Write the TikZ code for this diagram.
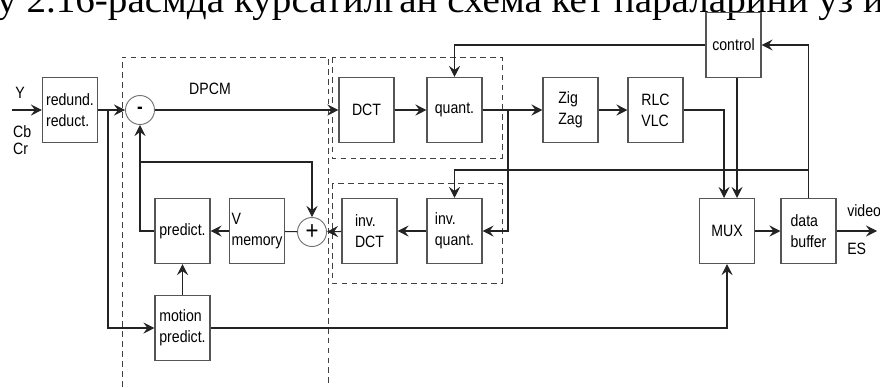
\documentclass[tikz,border=0pt]{standalone}
\usepackage{fontspec}
\setmainfont{Liberation Sans}[FakeStretch=0.86]
\newfontfamily\pagefont{Liberation Serif}
\usetikzlibrary{arrows.meta,calc}
\definecolor{boxgray}{RGB}{85,85,85}
\definecolor{linegray}{RGB}{35,35,35}
\tikzset{
  blk/.style={draw=boxgray, line width=0.9pt, minimum width=1.65cm, minimum height=1.95cm, inner sep=1pt, align=left},
  sumnode/.style={circle, draw=black!55, line width=0.8pt, minimum size=0.87cm, inner sep=0pt},
  arr/.style={-{Stealth[length=9.5pt,width=9.5pt,inset=3.5pt]}, linegray, line width=0.9pt},
  ln/.style={linegray, line width=0.9pt},
  dashbox/.style={draw=black!75, line width=0.8pt, dash pattern=on 5pt off 3.5pt},
  lbl/.style={anchor=west, inner sep=0pt},
}

\begin{document}
\begin{tikzpicture}[x=0.03cm,y=-0.03cm,font=\fontsize{14}{17.9}\selectfont]
  \useasboundingbox (0,0) rectangle (880,387);
  % cut-off line of the page above
  \begin{scope}
    \clip (0,0) rectangle (880,387);
    \node[anchor=base west, inner sep=0pt, font=\pagefont\fontsize{32}{32}\selectfont] (pg) at (-3,12) {\resizebox{26.6cm}{\height}{у 2.16-расмда курсатилган схема кет параларини уз и}};
  \end{scope}

  % dashed groups
  \draw[dashbox] (122,387) -- (122,57) -- (328,57) -- (328,387);
  \draw[dashbox] (332,57) rectangle (502,158);
  \draw[dashbox] (332,183) rectangle (502,283);

  % blocks
  \node[blk] (red) at (70,110) {redund.\\reduct.};
  \node[sumnode, font=\fontsize{17}{17}\bfseries] (minus) at (140,110) {-};
  \node (dpcm) at (210,89) {DPCM};
  \node[blk] (dct) at (366.5,110) {DCT};
  \node[blk] (quant) at (454.5,110) {quant.};
  \node[blk] (zz) at (570.5,110) {Zig\\Zag};
  \node[blk] (rlc) at (655.5,110) {RLC\\VLC};
  \node[blk] (ctrl) at (733.5,45) {control};
  \node[blk] (mux) at (727,231) {MUX};
  \node[blk] (buf) at (808.5,231) {data\\buffer};
  \node[blk] (iquant) at (454.5,231) {inv.\\quant.};
  \node[blk] (idct) at (369.5,231) {inv.\\DCT};
  \node[sumnode, font=\fontsize{22}{22}\selectfont] (plus) at (312,232) {+};
  \node[blk] (mem) at (257,231) {V\\memory};
  \node[blk] (pred) at (182.5,231) {predict.};
  \node[blk] (motion) at (182.5,328) {motion\\predict.};

  % labels
  \node (ylab) at (20,93) {Y};
  \node[lbl] (cb) at (13,132) {Cb};
  \node[lbl] (cr) at (13,149) {Cr};
  \node[lbl] (vid) at (847,211) {video};
  \node[lbl] (es) at (847,249) {ES};

  % points
  \coordinate (in) at (12,110);
  \coordinate (rb) at (108,110);
  \coordinate (qb) at (508,110);
  \coordinate (fb) at (140,162);
  \coordinate (tap) at (808.5,170);
  \coordinate (out) at (877,231);
  \coordinate (m1) at ($(mux.north)+(-3,0)$);
  \coordinate (m2) at ($(mux.north)+(10,0)$);

  % forward path
  \draw[arr] (in) -- (red);
  \draw[arr] (red) -- (minus);
  \draw[arr] (rb) |- (motion);
  \draw[arr] (minus) -- (dct);
  \draw[arr] (dct) -- (quant);
  \draw[arr] (quant) -- (zz);
  \draw[arr] (zz) -- (rlc);
  \draw[arr] (rlc) -| (m1);
  \draw[arr] (ctrl.south -| m2) -- (m2);
  \draw[arr] (mux) -- (buf);
  \draw[arr] (buf) -- (out);
  \draw[arr] (motion) -| (mux);

  % control loops
  \draw[arr] (ctrl) -| (quant);
  \draw[arr] (buf) |- (ctrl);
  \draw[arr] (tap) -| (iquant);

  % local decoder
  \draw[arr] (qb) |- (iquant);
  \draw[arr] (iquant) -- (idct);
  \draw[arr] (idct) -- (plus);
  \draw[ln] (plus) -- (mem);
  \draw[arr] (mem) -- (pred);
  \draw[arr] (pred) -| (minus);
  \draw[arr] (fb) -| (plus);
  \draw[arr] (motion) -- (pred);
\end{tikzpicture}
\end{document}
